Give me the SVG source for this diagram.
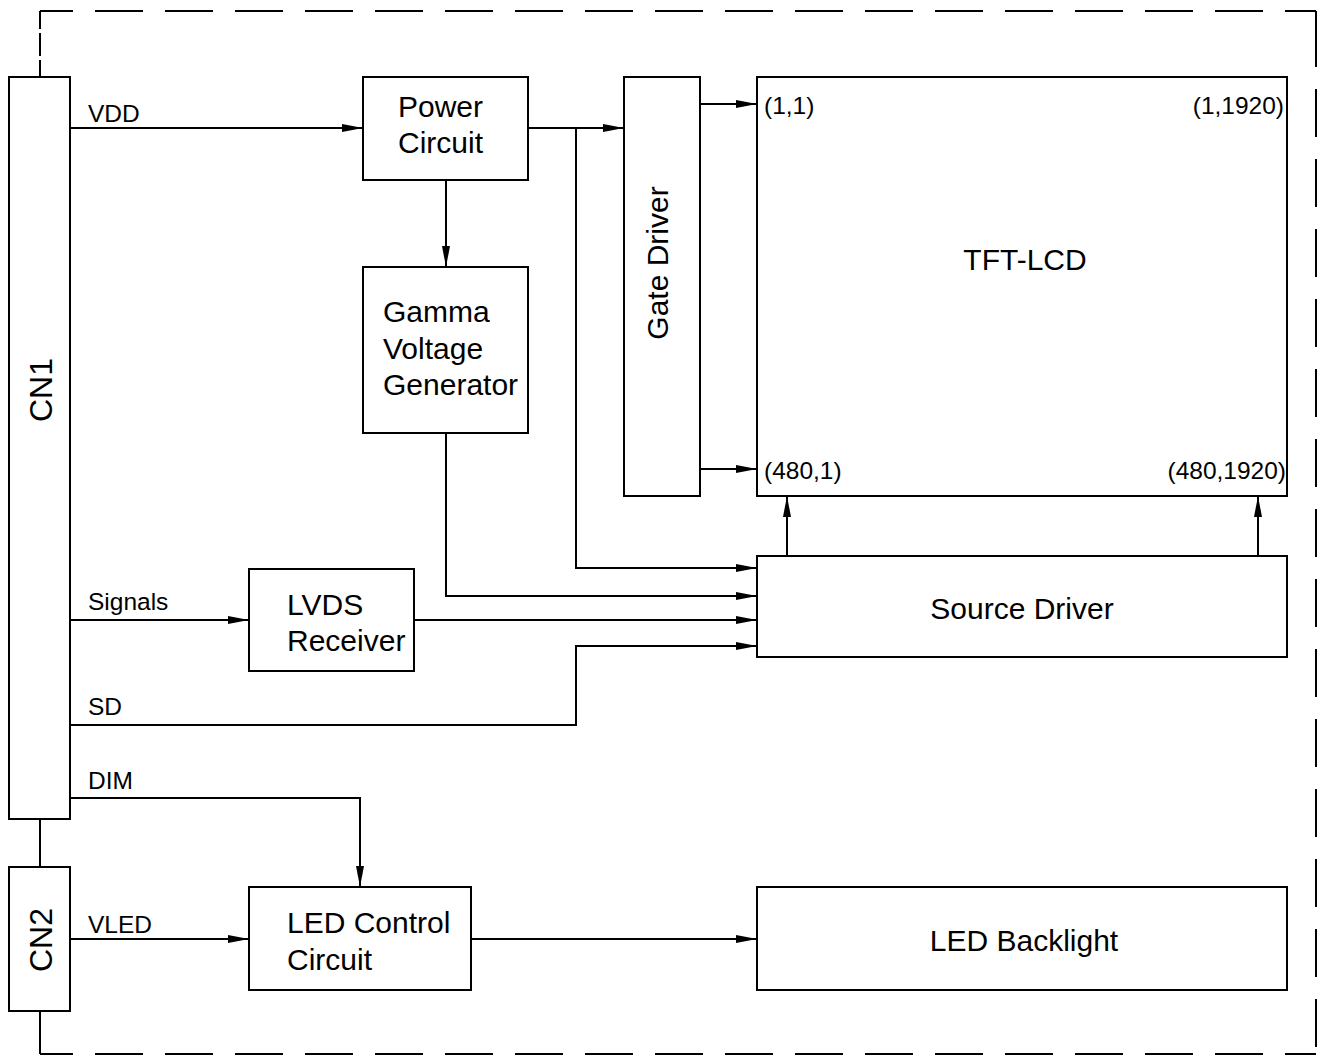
<svg xmlns="http://www.w3.org/2000/svg" width="1319" height="1056" viewBox="0 0 1319 1056">
<defs>
<marker id="ah" markerUnits="userSpaceOnUse" markerWidth="22" markerHeight="10" refX="21" refY="4" orient="auto">
<path d="M0,0 L21,4 L0,8 Z" fill="#000"/>
</marker>
<style>
.b{fill:#fff;stroke:#000;stroke-width:2}
.c{fill:none;stroke:#000;stroke-width:2}
.d{fill:none;stroke:#000;stroke-width:2;stroke-dasharray:48 22}
.a{fill:none;stroke:#000;stroke-width:2;marker-end:url(#ah)}
.t{font-family:"Liberation Sans",Arial,sans-serif;font-size:30px;fill:#000}
.cn{font-family:"Liberation Sans",Arial,sans-serif;font-size:32px;fill:#000;text-anchor:middle}
.l{font-family:"Liberation Sans",Arial,sans-serif;font-size:24.5px;fill:#000}
.m{text-anchor:middle}
.e{text-anchor:end}
</style>
</defs>
<rect width="1319" height="1056" fill="#fff"/>
<g id="border">
<path class="c" d="M40,77 L40,11" stroke-dasharray="17 4 23 4 18 100"/>
<path class="d" d="M40,11 L1316,11" stroke-dashoffset="15"/>
<path class="c" d="M1316,11 L1316,19"/>
<path class="d" d="M1316,19 L1316,1054"/>
<path class="d" d="M40,1054 L1316,1054" stroke-dashoffset="15"/>
<path class="c" d="M40,1011 L40,1054"/>
<path class="c" d="M40,819 L40,867"/>
</g>
<g id="connectors">
<path class="a" d="M70,128 L363,128"/>
<path class="a" d="M528,128 L624,128"/>
<path class="a" d="M446,180 L446,267"/>
<path class="a" d="M700,104 L757,104"/>
<path class="a" d="M700,469 L757,469"/>
<path class="a" d="M787,556 L787,496"/>
<path class="a" d="M1258,556 L1258,496"/>
<path class="a" d="M576,128 L576,568 L757,568"/>
<path class="a" d="M446,433 L446,596 L757,596"/>
<path class="a" d="M414,620 L757,620"/>
<path class="a" d="M70,620 L249,620"/>
<path class="a" d="M70,725 L576,725 L576,646 L757,646"/>
<path class="a" d="M70,798 L360,798 L360,887"/>
<path class="a" d="M70,939 L249,939"/>
<path class="a" d="M471,939 L757,939"/>
</g>
<g id="labels">
<text class="l" x="88" y="122">VDD</text>
<text class="l" x="88" y="610">Signals</text>
<text class="l" x="88" y="715">SD</text>
<text class="l" x="88" y="789">DIM</text>
<text class="l" x="88" y="933">VLED</text>
</g>
<g id="cn1"><rect class="b" x="9" y="77" width="61" height="742"/>
<text class="cn" transform="translate(52,390) rotate(-90)">CN1</text></g>
<g id="cn2"><rect class="b" x="9" y="867" width="61" height="144"/>
<text class="cn" transform="translate(52,940) rotate(-90)">CN2</text></g>
<g id="power"><rect class="b" x="363" y="77" width="165" height="103"/>
<text class="t" x="398" y="117">Power</text><text class="t" x="398" y="153">Circuit</text></g>
<g id="gamma"><rect class="b" x="363" y="267" width="165" height="166"/>
<text class="t" x="383" y="322">Gamma</text><text class="t" x="383" y="359">Voltage</text><text class="t" x="383" y="395">Generator</text></g>
<g id="gate"><rect class="b" x="624" y="77" width="76" height="419"/>
<text class="t m" transform="translate(668,263) rotate(-90)">Gate Driver</text></g>
<g id="tft"><rect class="b" x="757" y="77" width="530" height="419"/>
<text class="t m" x="1025" y="270">TFT-LCD</text>
<text class="l" x="764" y="114">(1,1)</text>
<text class="l e" x="1284" y="114">(1,1920)</text>
<text class="l" x="764" y="479">(480,1)</text>
<text class="l e" x="1286" y="479">(480,1920)</text></g>
<g id="source"><rect class="b" x="757" y="556" width="530" height="101"/>
<text class="t m" x="1022" y="619">Source Driver</text></g>
<g id="lvds"><rect class="b" x="249" y="569" width="165" height="102"/>
<text class="t" x="287" y="615">LVDS</text><text class="t" x="287" y="651">Receiver</text></g>
<g id="ledctl"><rect class="b" x="249" y="887" width="222" height="103"/>
<text class="t" x="287" y="933">LED Control</text><text class="t" x="287" y="970">Circuit</text></g>
<g id="backlight"><rect class="b" x="757" y="887" width="530" height="103"/>
<text class="t m" x="1024" y="951">LED Backlight</text></g>
</svg>
